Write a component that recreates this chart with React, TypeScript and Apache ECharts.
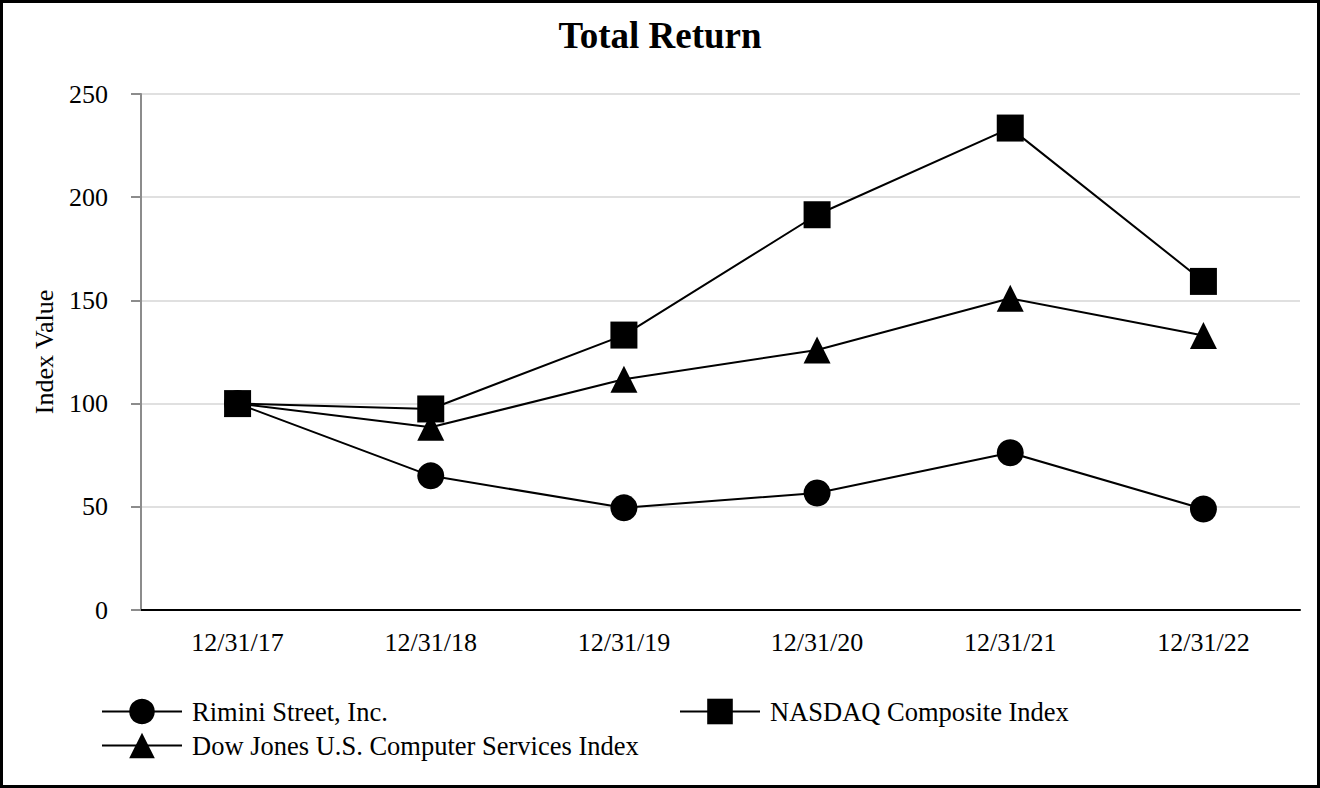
import React, { useEffect, useRef } from "react";
import * as echarts from "echarts";

const categories = ["12/31/17", "12/31/18", "12/31/19", "12/31/20", "12/31/21", "12/31/22"];
const rimini = [100, 65, 49.5, 56.7, 76.2, 48.9];
const nasdaq = [100, 97.4, 133.2, 191.5, 233.5, 159.2];
const dowJones = [100, 88.5, 111.8, 126, 151, 133];
const seriesNames = ["Rimini Street, Inc.", "NASDAQ Composite Index", "Dow Jones U.S. Computer Services Index"];

const FONT = '"Liberation Serif", "Times New Roman", serif';

export default function App() {
  const ref = useRef<HTMLDivElement>(null);
  useEffect(() => {
    if (!ref.current) return;
    const chart = echarts.init(ref.current, undefined, { renderer: "svg" });
    const lineSeries = (name: string, data: number[], symbol: string) => ({
      name,
      type: "line",
      data,
      symbol,
      symbolSize: 27,
      showSymbol: true,
      lineStyle: { color: "#000", width: 2 },
      itemStyle: { color: "#000" },
      emphasis: { disabled: true },
    });
    const legendCommon = {
      orient: "vertical",
      padding: 0,
      itemWidth: 80,
      itemHeight: 32,
      itemGap: 7,
      textStyle: { fontFamily: FONT, fontSize: 26.5, color: "#000", padding: [0, 0, 0, 5] },
      selectedMode: false,
    };
    chart.setOption({
      animation: false,
      backgroundColor: "#fff",
      title: {
        text: "Total Return",
        left: "center",
        top: 9,
        textStyle: { fontFamily: FONT, fontSize: 37, fontWeight: "bold", color: "#000" },
      },
      legend: [
        { ...legendCommon, left: 98, top: 695, data: [seriesNames[0], seriesNames[2]] },
        { ...legendCommon, left: 676, top: 695, data: [seriesNames[1]] },
      ],
      grid: { left: 138, right: 17, top: 91, bottom: 175, containLabel: false },
      xAxis: {
        type: "category",
        data: categories,
        boundaryGap: true,
        axisLine: { show: true, lineStyle: { color: "#000", width: 2 } },
        axisTick: { show: false },
        axisLabel: { fontFamily: FONT, fontSize: 26, color: "#000", margin: 19 },
      },
      yAxis: {
        type: "value",
        min: 0,
        max: 250,
        interval: 50,
        name: "Index Value",
        nameLocation: "middle",
        nameGap: 84,
        nameTextStyle: { fontFamily: FONT, fontSize: 26, color: "#000" },
        axisLine: { show: true, lineStyle: { color: "#8c8c8c", width: 2 } },
        axisTick: { show: true, length: 10, lineStyle: { color: "#8c8c8c", width: 2 } },
        axisLabel: { fontFamily: FONT, fontSize: 26, color: "#000", margin: 33 },
        splitLine: { show: true, lineStyle: { color: "#e0e0e0", width: 2 } },
      },
      series: [
        lineSeries(seriesNames[0], rimini, "circle"),
        lineSeries(seriesNames[2], dowJones, "triangle"),
        lineSeries(seriesNames[1], nasdaq, "rect"),
      ],
    });
    return () => chart.dispose();
  }, []);
  return (
    <div
      style={{
        position: "absolute",
        left: 0,
        top: 0,
        width: 1320,
        height: 788,
        boxSizing: "border-box",
        border: "3px solid #000",
        background: "#fff",
      }}
    >
      <div ref={ref} style={{ width: 1314, height: 782 }} />
    </div>
  );
}
